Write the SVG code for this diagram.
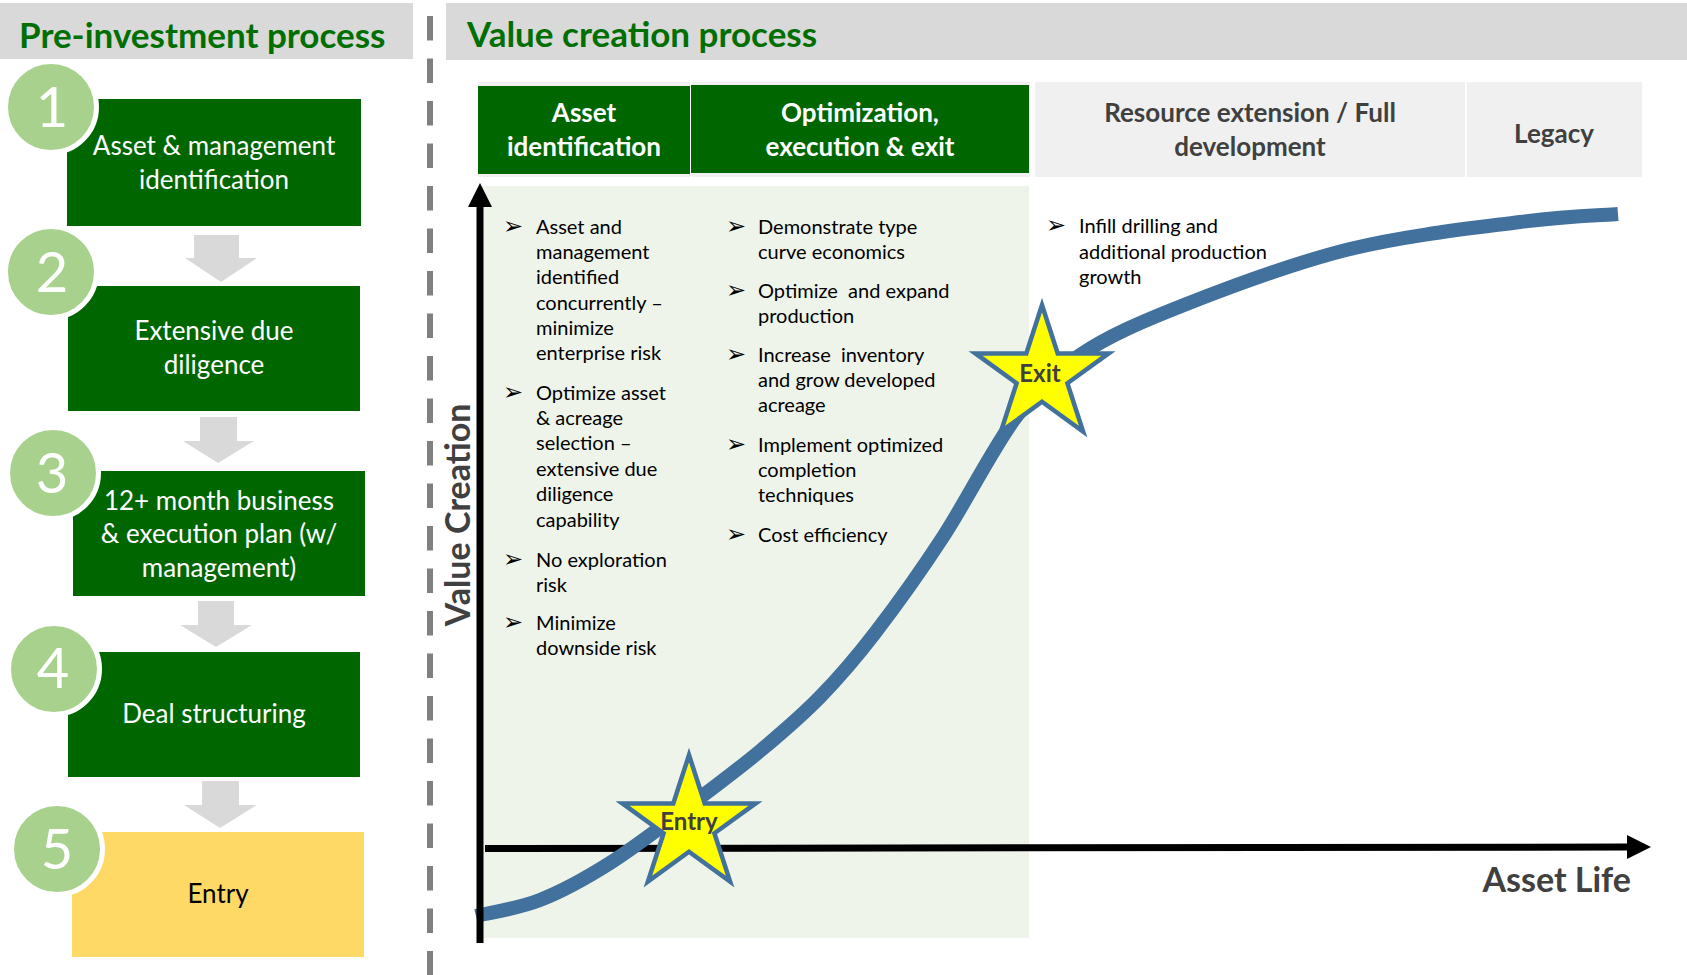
<svg xmlns="http://www.w3.org/2000/svg" xmlns:xlink="http://www.w3.org/1999/xlink" width="1687" height="975" viewBox="0 0 1687 975">
  <style>
    .band { fill: #d9d9d9; }
    .title { font-family: Lato, "Open Sans", sans-serif; font-weight: 700; font-size: 35px; fill: #006f00; }
    .step { fill: #006600; }
    .step-entry { fill: #ffd966; }
    .step-text { font-family: Lato, "Open Sans", sans-serif; font-size: 26px; fill: #ffffff; text-anchor: middle; }
    .num-circle { fill: #a9d18e; stroke: #ffffff; stroke-width: 5; }
    .num { font-family: Lato, "Open Sans", sans-serif; font-size: 56px; fill: #ffffff; text-anchor: middle; }
    .flow { fill: #d9d9d9; }
    .cell-bg { fill: #f0f0f0; }
    .cell-green { fill: #006600; }
    .cell-text { font-family: Lato, "Open Sans", sans-serif; font-weight: 700; font-size: 26px; text-anchor: middle; }
    .bullet-text { font-family: Lato, "Open Sans", sans-serif; font-size: 20px; fill: #000000; }
    .bullet { font-family: "DejaVu Sans", sans-serif; font-size: 24px; fill: #000000; }
    .axis { stroke: #000000; stroke-width: 7; fill: none; }
    .axis-label { font-family: Lato, "Open Sans", sans-serif; font-weight: 700; font-size: 34px; fill: #404040; }
    .curve { fill: none; stroke: #41719c; stroke-width: 14; }
    .star { fill: #ffff00; stroke: #41719c; stroke-width: 4.5; stroke-linejoin: miter; }
    .star-text { font-family: Lato, "Open Sans", sans-serif; font-weight: 700; font-size: 24px; fill: #404040; text-anchor: middle; }
    .pre { white-space: pre; }
  </style>
  <defs>
    <marker id="axisHead" viewBox="0 0 24 24" refX="0" refY="12" markerWidth="24" markerHeight="24" markerUnits="userSpaceOnUse" orient="auto">
      <path d="M0,0 L24,12 L0,24 Z" fill="#000000"/>
    </marker>
    <!-- regular five-point star, outer radius 70 -->
    <path id="star5" d="M0,-70 L15.7,-21.6 L66.6,-21.6 L25.4,8.3 L41.1,56.6 L0,26.7 L-41.1,56.6 L-25.4,8.3 L-66.6,-21.6 L-15.7,-21.6 Z"/>
  </defs>

  <rect width="1687" height="975" fill="#ffffff"/>

  <!-- section title bands -->
  <g id="pre-investment-title">
    <rect class="band" x="0" y="3" width="413" height="56"/>
    <text class="title" x="19" y="48">Pre-investment process</text>
  </g>
  <g id="value-creation-title">
    <rect class="band" x="446" y="3" width="1241" height="57"/>
    <text class="title" x="467" y="47">Value creation process</text>
  </g>

  <!-- dashed divider -->
  <line x1="430" y1="16" x2="430" y2="975" stroke="#808080" stroke-width="6" stroke-dasharray="24.5 18"/>

  <!-- step flow arrows -->
  <g id="connectors">
    <path class="flow" d="M194,235 H239 V258 H257 L221,282 L185,258 H194 Z"/>
    <path class="flow" d="M200,417 H237 V441 H254 L218,463 L183,441 H200 Z"/>
    <path class="flow" d="M198,601 H234 V625 H252 L216,647 L180,625 H198 Z"/>
    <path class="flow" d="M202,781 H239 V805 H257 L220,828 L184,805 H202 Z"/>
  </g>

  <!-- pre-investment steps -->
  <g id="step1">
    <rect class="step" x="67" y="99" width="294" height="127"/>
    <text class="step-text" x="214" y="155">Asset &amp; management</text>
    <text class="step-text" x="214" y="189">identification</text>
    <circle class="num-circle" cx="51" cy="107" r="45.5"/>
    <text class="num" x="52" y="127">1</text>
  </g>
  <g id="step2">
    <rect class="step" x="68" y="286" width="292" height="125"/>
    <text class="step-text" x="214" y="340">Extensive due</text>
    <text class="step-text" x="214" y="374">diligence</text>
    <circle class="num-circle" cx="51" cy="272" r="45.5"/>
    <text class="num" x="52" y="292">2</text>
  </g>
  <g id="step3">
    <rect class="step" x="73" y="471" width="292" height="125"/>
    <text class="step-text" x="219" y="510">12+ month business</text>
    <text class="step-text" x="219" y="543">&amp; execution plan (w/</text>
    <text class="step-text" x="219" y="577">management)</text>
    <circle class="num-circle" cx="53" cy="473" r="45.5"/>
    <text class="num" x="52" y="493">3</text>
  </g>
  <g id="step4">
    <rect class="step" x="68" y="652" width="292" height="125"/>
    <text class="step-text" x="214" y="723">Deal structuring</text>
    <circle class="num-circle" cx="54" cy="669" r="45.5"/>
    <text class="num" x="53" y="688">4</text>
  </g>
  <g id="step5">
    <rect class="step-entry" x="72" y="832" width="292" height="125"/>
    <text class="step-text" x="218" y="903" style="fill:#000000">Entry</text>
    <circle class="num-circle" cx="57" cy="849" r="45.5"/>
    <text class="num" x="57" y="869">5</text>
  </g>

  <!-- shaded early phases of the curve -->
  <rect id="early-phase-shade" x="482" y="186" width="547" height="752" fill="#eff4ea"/>

  <!-- phase headers -->
  <g id="phase-asset-identification">
    <rect class="cell-bg" x="478" y="82" width="212" height="95"/>
    <rect class="cell-green" x="478" y="86" width="212" height="88"/>
    <text class="cell-text" x="584" y="122" fill="#ffffff">Asset</text>
    <text class="cell-text" x="584" y="156" fill="#ffffff">identification</text>
  </g>
  <g id="phase-optimization">
    <rect class="cell-bg" x="692" y="82" width="338" height="95"/>
    <rect class="cell-green" x="691" y="85" width="338" height="88"/>
    <text class="cell-text" x="860" y="122" fill="#ffffff">Optimization,</text>
    <text class="cell-text" x="860" y="156" fill="#ffffff">execution &amp; exit</text>
  </g>
  <g id="phase-resource-extension">
    <rect class="cell-bg" x="1035" y="82" width="430" height="95"/>
    <text class="cell-text" x="1250" y="122" fill="#404040">Resource extension / Full</text>
    <text class="cell-text" x="1250" y="156" fill="#404040">development</text>
  </g>
  <g id="phase-legacy">
    <rect class="cell-bg" x="1467" y="82" width="175" height="95"/>
    <text class="cell-text" x="1554" y="143" fill="#404040">Legacy</text>
  </g>

  <!-- bullet lists -->
  <g id="bullets-asset-identification">
    <text class="bullet" x="503" y="234">➢</text>
    <text class="bullet" x="503" y="400">➢</text>
    <text class="bullet" x="503" y="567">➢</text>
    <text class="bullet" x="503" y="630">➢</text>
    <text class="bullet-text">
      <tspan x="536" y="234">Asset and</tspan>
      <tspan x="536" y="259">management</tspan>
      <tspan x="536" y="284">identified</tspan>
      <tspan x="536" y="310">concurrently –</tspan>
      <tspan x="536" y="335">minimize</tspan>
      <tspan x="536" y="360">enterprise risk</tspan>
      <tspan x="536" y="400">Optimize asset</tspan>
      <tspan x="536" y="425">&amp; acreage</tspan>
      <tspan x="536" y="450">selection –</tspan>
      <tspan x="536" y="476">extensive due</tspan>
      <tspan x="536" y="501">diligence</tspan>
      <tspan x="536" y="527">capability</tspan>
      <tspan x="536" y="567">No exploration</tspan>
      <tspan x="536" y="592">risk</tspan>
      <tspan x="536" y="630">Minimize</tspan>
      <tspan x="536" y="655">downside risk</tspan>
    </text>
  </g>
  <g id="bullets-optimization">
    <text class="bullet" x="726" y="234">➢</text>
    <text class="bullet" x="726" y="298">➢</text>
    <text class="bullet" x="726" y="362">➢</text>
    <text class="bullet" x="726" y="452">➢</text>
    <text class="bullet" x="726" y="542">➢</text>
    <text class="bullet-text pre">
      <tspan x="758" y="234">Demonstrate type</tspan>
      <tspan x="758" y="259">curve economics</tspan>
      <tspan x="758" y="298">Optimize  and expand</tspan>
      <tspan x="758" y="323">production</tspan>
      <tspan x="758" y="362">Increase  inventory</tspan>
      <tspan x="758" y="387">and grow developed</tspan>
      <tspan x="758" y="412">acreage</tspan>
      <tspan x="758" y="452">Implement optimized</tspan>
      <tspan x="758" y="477">completion</tspan>
      <tspan x="758" y="502">techniques</tspan>
      <tspan x="758" y="542">Cost efficiency</tspan>
    </text>
  </g>
  <g id="bullets-resource-extension">
    <text class="bullet" x="1046" y="233">➢</text>
    <text class="bullet-text">
      <tspan x="1079" y="233">Infill drilling and</tspan>
      <tspan x="1079" y="259">additional production</tspan>
      <tspan x="1079" y="284">growth</tspan>
    </text>
  </g>

  <!-- value creation chart -->
  <g id="chart">
    <line class="axis" x1="485" y1="848.5" x2="1627" y2="847" marker-end="url(#axisHead)"/>
    <path id="value-curve" class="curve" d="M476,916 C486.7,913.3 517.7,908.8 540,900 C562.3,891.2 585.2,878.7 610,863 C634.8,847.3 664,824.7 689,806 C714,787.3 738.2,769.2 760,751 C781.8,732.8 800.8,716.7 820,697 C839.2,677.3 854.5,659.7 875,633 C895.5,606.3 919.5,573 943,537 C966.5,501 993.2,447.3 1016,417 C1038.8,386.7 1052,373.7 1080,355 C1108,336.3 1139,322.7 1184,305 C1229,287.3 1294,262.8 1350,249 C1406,235.2 1475.3,227.8 1520,222 C1564.7,216.2 1601.7,215.3 1618,214"/>
    <line class="axis" x1="480" y1="943" x2="480" y2="207" marker-end="url(#axisHead)"/>
    <text class="axis-label" x="470" y="515" text-anchor="middle" transform="rotate(-90 470 515)">Value Creation</text>
    <text class="axis-label" x="1631" y="892" text-anchor="end">Asset Life</text>
  </g>

  <g id="entry-star">
    <use href="#star5" xlink:href="#star5" class="star" transform="translate(689 825)"/>
    <text class="star-text" x="689" y="830">Entry</text>
  </g>
  <g id="exit-star">
    <use href="#star5" xlink:href="#star5" class="star" transform="translate(1042 375)"/>
    <text class="star-text" x="1040" y="382">Exit</text>
  </g>
</svg>
